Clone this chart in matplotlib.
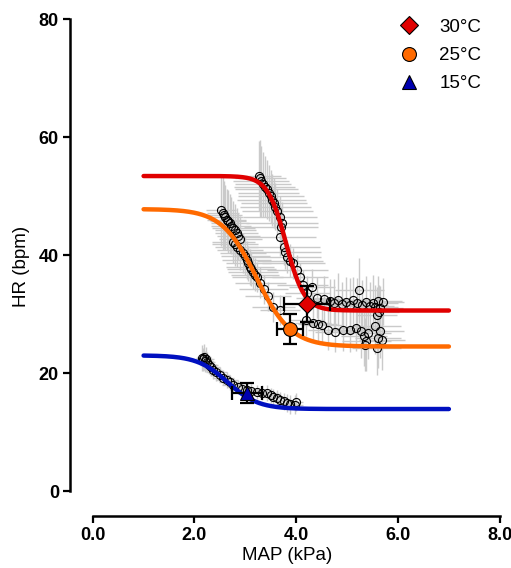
import numpy as np
import matplotlib.pyplot as plt
from matplotlib.lines import Line2D

plt.rcParams['font.family'] = ['Liberation Sans', 'DejaVu Sans']

# Параметры сигмоидальных кривых (верх, низ, x50, наклон)
fit_30 = [53.4, 30.6, 3.80, 0.18]
fit_25 = [47.8, 24.5, 3.22, 0.34]
fit_15 = [23.0, 13.9, 2.65, 0.30]
fit_range = [1.0, 7.0]

# Средние точки с ошибками (x, y, xerr, yerr)
mean_30 = [4.21, 31.7, 0.45, 3.0]
mean_25 = [3.88, 27.5, 0.26, 2.5]
mean_15 = [3.03, 16.6, 0.30, 1.7]

# Данные 30°C
x_30 = [3.26, 3.29, 3.31, 3.34, 3.38, 3.42, 3.46, 3.50, 3.52, 3.56, 3.59, 3.63,
        3.68, 3.72, 3.70, 3.68, 3.75, 3.78, 3.81, 3.88, 3.94, 4.02, 4.08, 4.13,
        4.22, 4.31, 4.40, 4.55, 4.67, 4.75, 4.82, 4.90, 4.98, 5.05, 5.12, 5.20,
        5.24, 5.30, 5.38, 5.45, 5.50, 5.55, 5.60, 5.65, 5.70, 5.62, 5.58]
y_30 = [53.4, 53.0, 52.5, 52.0, 51.6, 51.2, 50.5, 50.0, 49.4, 48.8, 48.2, 47.4,
        46.4, 45.5, 44.7, 43.0, 41.4, 40.6, 39.7, 39.0, 38.6, 37.5, 36.2, 34.9,
        33.6, 34.6, 32.8, 32.5, 32.2, 31.8, 32.4, 31.7, 32.1, 31.6, 32.3, 31.9,
        34.0, 31.5, 32.0, 31.4, 31.9, 31.2, 32.2, 31.0, 32.1, 30.4, 29.8]
xerr_30 = [0.45, 0.50, 0.55, 0.55, 0.60, 0.62, 0.60, 0.65, 0.68, 0.65, 0.70, 0.70,
           0.72, 0.70, 0.72, 0.70, 0.72, 0.70, 0.68, 0.65, 0.62, 0.60, 0.55, 0.50,
           0.45, 0.45, 0.40, 0.40, 0.45, 0.42, 0.45, 0.48, 0.45, 0.48, 0.50, 0.45,
           0.48, 0.50, 0.50, 0.48, 0.50, 0.45, 0.48, 0.45, 0.42, 0.40, 0.40]
yerr_30 = [6.0, 6.5, 6.0, 5.5, 5.2, 5.0, 4.8, 4.5, 4.4, 4.2, 4.0, 3.8,
           3.6, 3.5, 3.4, 3.2, 3.0, 3.0, 2.8, 2.8, 2.6, 2.5, 2.5, 2.5,
           2.8, 3.0, 3.5, 4.0, 3.8, 4.2, 4.5, 3.8, 4.2, 4.5, 4.0, 4.2,
           5.5, 4.2, 4.5, 4.0, 4.8, 3.8, 4.2, 3.8, 4.0, 4.5, 4.8]

# Данные 25°C
x_25 = [2.52, 2.56, 2.58, 2.60, 2.63, 2.66, 2.70, 2.72, 2.76, 2.80, 2.83, 2.86,
        2.90, 2.76, 2.80, 2.83, 2.90, 2.95, 3.00, 3.03, 3.06, 3.09, 3.12, 3.15,
        3.19, 3.23, 3.29, 3.36, 3.44, 3.55, 3.68, 4.20, 4.33, 4.42, 4.51, 4.63,
        4.76, 4.92, 5.06, 5.18, 5.28, 5.33, 5.38, 5.42, 5.55, 5.60, 5.64, 5.68,
        5.35, 5.58]
y_25 = [47.6, 47.1, 46.8, 46.4, 46.0, 45.7, 45.4, 45.0, 44.6, 44.2, 43.7, 43.2,
        42.8, 42.2, 41.8, 41.4, 40.9, 40.3, 39.8, 39.2, 38.6, 38.0, 37.6, 37.1,
        36.7, 36.3, 35.3, 34.2, 33.0, 31.2, 30.7, 29.0, 28.5, 28.3, 28.1, 27.3,
        27.0, 27.3, 27.3, 27.6, 27.1, 26.2, 25.5, 26.8, 28.0, 26.0, 27.2, 25.6,
        24.8, 24.2]
xerr_25 = [0.30, 0.32, 0.35, 0.35, 0.38, 0.36, 0.38, 0.40, 0.42, 0.40, 0.42, 0.42,
           0.42, 0.42, 0.45, 0.42, 0.45, 0.45, 0.48, 0.48, 0.45, 0.48, 0.48, 0.50,
           0.48, 0.50, 0.50, 0.48, 0.45, 0.42, 0.40, 0.35, 0.35, 0.38, 0.40, 0.40,
           0.40, 0.42, 0.45, 0.45, 0.48, 0.45, 0.48, 0.45, 0.50, 0.45, 0.48, 0.45,
           0.45, 0.48]
yerr_25 = [6.0, 6.2, 5.8, 5.5, 5.2, 5.4, 5.0, 4.8, 4.5, 4.4, 4.2, 4.0,
           3.8, 3.6, 3.6, 3.5, 3.4, 3.4, 3.2, 3.2, 3.0, 3.0, 2.8, 2.8,
           2.8, 2.6, 2.6, 2.5, 2.5, 2.5, 2.5, 2.8, 3.0, 3.2, 3.2, 3.4,
           3.5, 3.5, 3.8, 3.8, 4.5, 5.0, 5.2, 4.5, 4.8, 5.2, 4.6, 5.0,
           4.5, 4.6]

# Данные 15°C
x_15 = [2.15, 2.17, 2.19, 2.21, 2.23, 2.25, 2.28, 2.32, 2.37, 2.43, 2.50, 2.57,
        2.64, 2.70, 2.76, 2.85, 2.94, 3.03, 3.12, 3.23, 3.33, 3.43, 3.50, 3.55,
        3.62, 3.68, 3.75, 3.81, 3.88, 3.97, 4.00]
y_15 = [22.6, 22.3, 22.7, 22.0, 22.4, 21.8, 21.4, 21.0, 20.5, 20.1, 19.7, 19.2,
        18.8, 18.4, 18.0, 17.6, 17.3, 17.1, 17.0, 16.8, 16.7, 16.6, 16.2, 15.9,
        15.7, 15.4, 15.2, 14.9, 14.7, 14.6, 15.1]
xerr_15 = [0.12, 0.14, 0.14, 0.15, 0.16, 0.16, 0.18, 0.18, 0.18, 0.20, 0.20, 0.20,
           0.22, 0.22, 0.22, 0.22, 0.24, 0.24, 0.24, 0.22, 0.22, 0.22, 0.20, 0.20,
           0.18, 0.18, 0.18, 0.16, 0.16, 0.16, 0.14]
yerr_15 = [2.2, 2.0, 2.2, 1.8, 2.0, 1.7, 1.6, 1.5, 1.5, 1.4, 1.3, 1.3,
           1.3, 1.2, 1.2, 1.2, 1.2, 1.2, 1.2, 1.2, 1.3, 1.3, 1.3, 1.4,
           1.4, 1.4, 1.5, 1.5, 1.6, 1.6, 1.6]

labels = ['30°C', '25°C', '15°C']
colors = ['#e00000', '#ff6a00', '#0010c0']
markers = ['D', 'o', '^']
marker_colors = ['#e00000', '#ff6a00', '#0000b0']


def sigmoid(x, p):
    top, bottom, x50, s = p
    return bottom + (top - bottom) / (1 + np.exp((x - x50) / s))


fig = plt.figure(figsize=(5.11, 5.68), dpi=100)
ax = fig.add_axes([0.137, 0.0915, 0.851, 0.880])

sets = [(x_30, y_30, xerr_30, yerr_30), (x_25, y_25, xerr_25, yerr_25),
        (x_15, y_15, xerr_15, yerr_15)]
fits = [fit_30, fit_25, fit_15]
means = [mean_30, mean_25, mean_15]

# Серые планки погрешностей и пустые кружки
for xs, ys, xe, ye in sets:
    ax.errorbar(xs, ys, xerr=xe, yerr=ye, fmt='none', ecolor='#cacaca',
                elinewidth=1.0, zorder=1)
for xs, ys, xe, ye in sets:
    ax.plot(xs, ys, 'o', mfc='none', mec='black', ms=5.8, mew=0.8, zorder=2)

# Кривые
xx = np.linspace(fit_range[0], fit_range[1], 300)
for p, c in zip(fits, colors):
    ax.plot(xx, sigmoid(xx, p), color=c, lw=3.2, solid_capstyle='round', zorder=3)

# Средние значения
for m, mk, mc in zip(means, markers, marker_colors):
    ax.errorbar(m[0], m[1], xerr=m[2], yerr=m[3], fmt='none', ecolor='black',
                elinewidth=1.6, capsize=5, capthick=1.6, zorder=4)
    ax.plot(m[0], m[1], mk, color=mc, mec='black', mew=0.8,
            ms=10 if mk != 'D' else 9.5, zorder=5)

ax.set_xlim(-0.446, 8.1)
ax.set_ylim(-4.24, 80.5)
ax.spines['top'].set_visible(False)
ax.spines['right'].set_visible(False)
ax.spines['left'].set_bounds(0, 80)
ax.spines['bottom'].set_bounds(0, 8)
ax.spines['left'].set_linewidth(1.8)
ax.spines['bottom'].set_linewidth(1.8)
ax.set_xticks([0, 2, 4, 6, 8])
ax.set_xticklabels(['0.0', '2.0', '4.0', '6.0', '8.0'])
ax.set_yticks([0, 20, 40, 60, 80])
ax.tick_params(width=1.6, length=5, labelsize=13, pad=3)
for t in ax.get_xticklabels() + ax.get_yticklabels():
    t.set_fontweight('bold')
ax.set_xlabel('MAP (kPa)', fontsize=13.5, labelpad=2)
ax.set_ylabel('HR (bpm)', fontsize=13.5, labelpad=6)

handles = [Line2D([], [], ls='none', marker=mk, color=mc, mec='black', mew=0.8,
                  ms=10 if mk != 'D' else 9.5)
           for mk, mc in zip(markers, marker_colors)]
ax.legend(handles, labels, loc='upper right', bbox_to_anchor=(0.985, 1.029),
          frameon=False, fontsize=13.5, handletextpad=0.6, labelspacing=0.6)

fig.savefig('out.png', dpi=100)
